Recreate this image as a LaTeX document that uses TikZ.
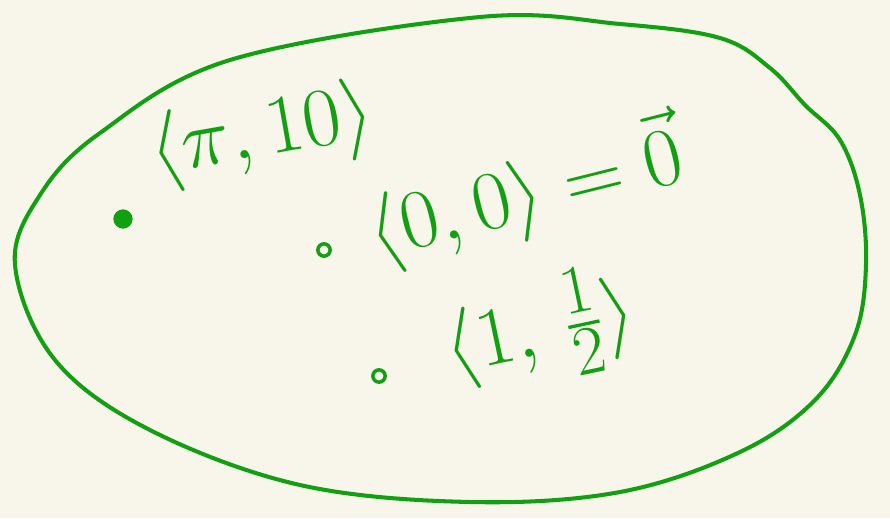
\documentclass[tikz,border=0pt]{standalone}
\usepackage{amsmath, amssymb}
\usepackage{tikz}
\usetikzlibrary{positioning, calc}
\definecolor{inkgreen}{RGB}{18,160,18}
\definecolor{paper}{RGB}{248,246,234}

\begin{document}
\begin{tikzpicture}[
    x=0.02cm, y=-0.02cm,
    ink/.style={draw=inkgreen, line width=2.3pt, line cap=round, line join=round},
    vecpt/.style={font=\Huge, scale=1.9, text=inkgreen, inner sep=0pt},
    fulldot/.style={circle, fill=inkgreen, inner sep=0pt, minimum size=11pt},
    opendot/.style={circle, draw=inkgreen, line width=2pt, inner sep=0pt, minimum size=7pt},
  ]

  % Paper
  \fill[paper] (0,0) rectangle (890,518);
  \useasboundingbox (0,0) rectangle (890,518);

  % The set (hand drawn blob)
  \draw[ink] plot[smooth cycle, tension=0.6] coordinates {
    (15,265) (40,195) (100,133) (230,60) (480,17) (620,24) (720,38)
    (770,68) (805,105) (840,140) (860,195) (866,265) (855,335) (815,400)
    (740,452) (620,492) (470,502) (300,485) (150,430) (55,360)};

  % Points
  \node[fulldot] (p1) at (123,219) {};
  \node[opendot] (p2) at (324,250) {};
  \node[opendot] (p3) at (379,376) {};

  % Labels
  \node[vecpt, rotate=10] (l1) at (262,135) {$\langle \pi,10\rangle$};
  \node[vecpt, rotate=14] (l2) at (525,192) {$\langle 0,0\rangle = \vec{0}$};
  \node[vecpt, rotate=12] (l3) at (540,330) {$\langle 1,\,\tfrac{1}{2}\rangle$};
\end{tikzpicture}
\end{document}
